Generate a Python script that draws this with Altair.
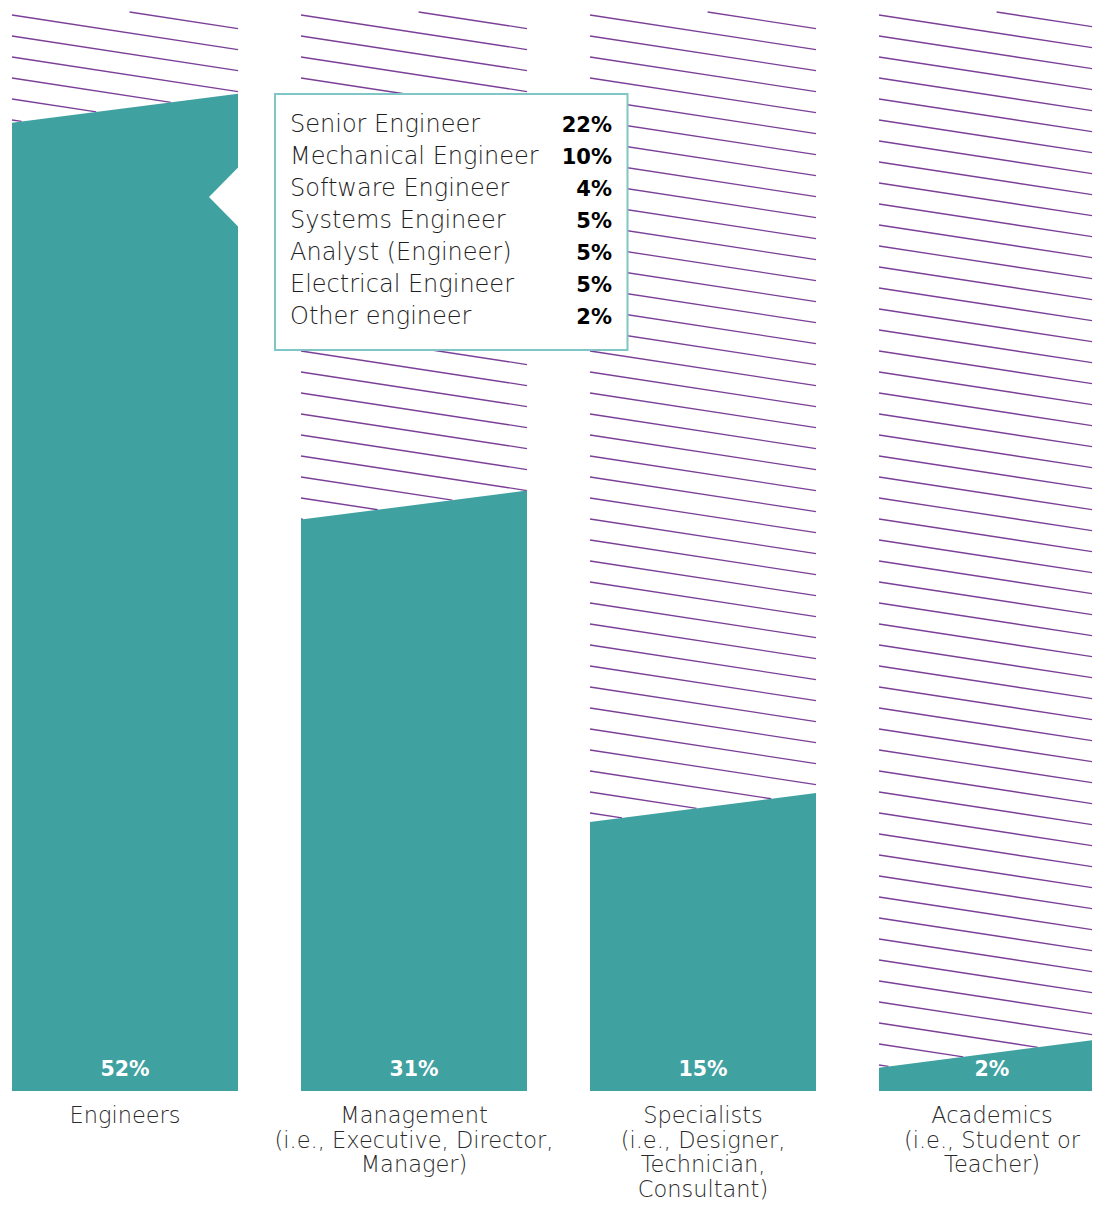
import altair as alt
import pandas as pd

# ---------------- data ----------------
categories = ["Engineers", "Management", "Specialists", "Academics"]
category_labels = [
    "Engineers",
    "Management\n(i.e., Executive, Director,\nManager)",
    "Specialists\n(i.e., Designer,\nTechnician,\nConsultant)",
    "Academics\n(i.e., Student or\nTeacher)",
]
shares = [52, 31, 15, 2]
share_labels = ["52%", "31%", "15%", "2%"]

engineer_roles = [
    "Senior Engineer",
    "Mechanical Engineer",
    "Software Engineer",
    "Systems Engineer",
    "Analyst (Engineer)",
    "Electrical Engineer",
    "Other engineer",
]
engineer_shares = [22, 10, 4, 5, 5, 5, 2]

# ---------------- layout / style ----------------
W, H = 1084, 1194
PXU = 18.9                      # pixels per percentage point
BASE = 1083                     # plot-y of the 0% baseline
Y_MIN = -(H - BASE) / PXU
Y_MAX = BASE / PXU
UPP = 1.0 / PXU
STEP = 289.0
FRAC = 226.0 / STEP
X_MIN = (8 - 12) / STEP
X_MAX = (8 + W - 12) / STEP

def vy(page_y):
    return Y_MAX - (page_y - 8) * UPP

def ux(page_x):
    return (page_x - 12) / STEP

TEAL = "#40a1a1"
PURPLE = "#7b3f98"
BOX_STROKE = "#80c6c6"
FONT = "DejaVu Sans"

SLANT = 14.5 * UPP
HATCH_DROP = 34.6 * UPP
HATCH_GAP = 21.0 * UPP
HATCH_TOP = vy(12)
HATCH_START = vy(15)

xs = alt.Scale(domain=[X_MIN, X_MAX], nice=False, zero=False)
ys = alt.Scale(domain=[Y_MIN, Y_MAX], nice=False, zero=False)

bar_rows = []
for i, (c, v) in enumerate(zip(categories, shares)):
    bar_rows.append({"cat": c, "x": i, "y": v - SLANT, "y0": 0})
    bar_rows.append({"cat": c, "x": i + FRAC, "y": v + SLANT, "y0": 0})
bars_df = pd.DataFrame(bar_rows)

hatch_rows = []
for i, (c, v) in enumerate(zip(categories, shares)):
    for k in range(-3, 70):
        v0 = HATCH_START - k * HATCH_GAP
        lo = max(0.0, (v0 - HATCH_TOP) / HATCH_DROP)
        hi = min(1.0, (v0 - (v - SLANT)) / (HATCH_DROP + 2 * SLANT))
        if hi > lo:
            hatch_rows.append({
                "x": i + FRAC * lo, "y": v0 - HATCH_DROP * lo,
                "x2": i + FRAC * hi, "y2": v0 - HATCH_DROP * hi,
            })
hatch_df = pd.DataFrame(hatch_rows)

hatch = alt.Chart(hatch_df).mark_rule(color=PURPLE, strokeWidth=1.3).encode(
    x=alt.X("x:Q", scale=xs, axis=None),
    y=alt.Y("y:Q", scale=ys, axis=None),
    x2="x2:Q",
    y2="y2:Q",
)

bars = alt.Chart(bars_df).mark_area(color=TEAL, orient="vertical", opacity=1).encode(
    x=alt.X("x:Q", scale=xs, axis=None),
    y=alt.Y("y:Q", scale=ys, axis=None),
    y2="y0:Q",
    detail="cat:N",
)

notch_df = pd.DataFrame({
    "x": [ux(209), ux(239.5)],
    "y": [vy(197), vy(166)],
    "y2": [vy(197), vy(228)],
})
notch = alt.Chart(notch_df).mark_area(color="white", orient="vertical", opacity=1).encode(
    x=alt.X("x:Q", scale=xs, axis=None),
    y=alt.Y("y:Q", scale=ys, axis=None),
    y2="y2:Q",
)

box_df = pd.DataFrame({"x": [ux(275)], "x2": [ux(627.5)], "y": [vy(94)], "y2": [vy(350)]})
box = alt.Chart(box_df).mark_rect(fill="white", stroke=BOX_STROKE, strokeWidth=2).encode(
    x=alt.X("x:Q", scale=xs, axis=None),
    x2="x2:Q",
    y=alt.Y("y:Q", scale=ys, axis=None),
    y2="y2:Q",
)

roles_df = pd.DataFrame({
    "role": engineer_roles,
    "pct": [f"{p}%" for p in engineer_shares],
    "xl": [ux(290)] * len(engineer_roles),
    "xr": [ux(612)] * len(engineer_roles),
    "y": [vy(132 + 32 * i) for i in range(len(engineer_roles))],
})
role_text = alt.Chart(roles_df).mark_text(
    align="left", baseline="alphabetic", font=FONT, fontSize=24, fontWeight=200, color="#1e1e1e"
).encode(
    x=alt.X("xl:Q", scale=xs, axis=None),
    y=alt.Y("y:Q", scale=ys, axis=None),
    text="role:N",
)
role_pct = alt.Chart(roles_df).mark_text(
    align="right", baseline="alphabetic", font=FONT, fontSize=21, fontWeight="bold", color="#000000"
).encode(
    x=alt.X("xr:Q", scale=xs, axis=None),
    y=alt.Y("y:Q", scale=ys, axis=None),
    text="pct:N",
)

labels_df = pd.DataFrame({
    "lab": share_labels,
    "cat": category_labels,
    "x": [i + FRAC / 2 for i in range(len(categories))],
    "yv": [vy(1076)] * len(categories),
    "yc": [vy(1123)] * len(categories),
})
value_text = alt.Chart(labels_df).mark_text(
    align="center", baseline="alphabetic", font=FONT, fontSize=20.5, fontWeight="bold", color="white"
).encode(
    x=alt.X("x:Q", scale=xs, axis=None),
    y=alt.Y("yv:Q", scale=ys, axis=None),
    text="lab:N",
)
cat_text = alt.Chart(labels_df).mark_text(
    align="center", baseline="alphabetic", font=FONT, fontSize=22.5, fontWeight=200,
    color="#2a2a2a", lineBreak="\n", lineHeight=24.5
).encode(
    x=alt.X("x:Q", scale=xs, axis=None),
    y=alt.Y("yc:Q", scale=ys, axis=None),
    text="cat:N",
)

chart = alt.layer(hatch, bars, notch, box, role_text, role_pct, value_text, cat_text).properties(
    width=W, height=H, padding=0, autosize=alt.AutoSizeParams(type="none"), background="white"
).configure_view(stroke=None)

chart.save("out.html", embed_options={"renderer": "svg", "actions": False})
